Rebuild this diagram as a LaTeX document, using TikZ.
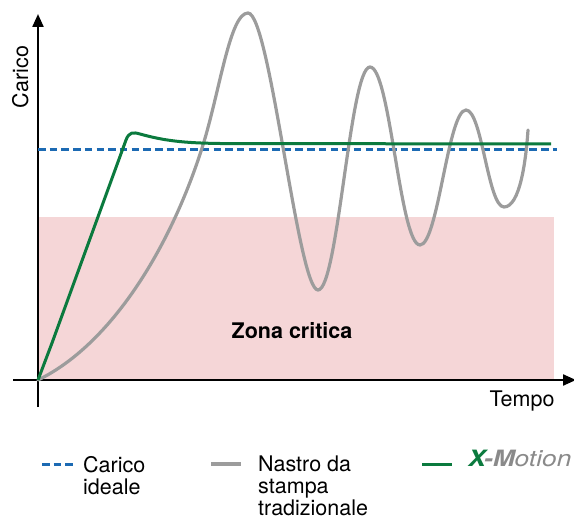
\documentclass[tikz,border=0pt]{standalone}
\usepackage{fontspec}
\setmainfont{TeX Gyre Heros}
\usetikzlibrary{arrows.meta}
\definecolor{xgreen}{HTML}{0B7A3E}
\definecolor{xgray}{HTML}{9C9C9C}
\definecolor{xblue}{HTML}{1C6AB3}
\definecolor{xpink}{HTML}{F5D6D7}
\definecolor{logogray}{HTML}{8A8A8A}
\tikzset{
  axis/.style={line width=2.2pt, -{Triangle[length=13pt,width=11pt]}},
  idealline/.style={xblue, line width=3pt, dash pattern=on 7.5pt off 4.2pt},
  tradline/.style={xgray, line width=3.2pt, line cap=round},
  xmline/.style={xgreen, line width=3pt, line join=round},
  lbl/.style={font=\fontsize{21.5}{22}\selectfont, inner sep=0pt, text=black},
}
\begin{document}
\begin{tikzpicture}[x=1pt, y=-1pt]
\useasboundingbox (0,0) rectangle (574,519);
% critical zone
\fill[xpink] (38,217) rectangle (554,380);
\node[lbl, font=\fontsize{21.5}{22}\selectfont\bfseries, anchor=base] (zona) at (292,338) {Zona critica};
% axes
\coordinate (ybot) at (38,407);
\coordinate (ytop) at (38,14);
\coordinate (xleft) at (13,380);
\coordinate (xright) at (576,380);
\draw[axis] (ybot) -- (ytop);
\draw[axis] (xleft) -- (xright);
\node[lbl, rotate=90, anchor=base] (carico) at (28,77) {Carico};
\node[lbl, anchor=base] (tempo) at (522,406) {Tempo};
% ideal load
\coordinate (i0) at (38,150);
\coordinate (i1) at (557,150);
\draw[idealline] (i0) -- (i1);
% traditional tape
\draw[tradline] (38,380) .. controls (110,345) and (170,250) .. (203,145)
  .. controls (220,90) and (230,13) .. (248,13)
  .. controls (270,13) and (298,290) .. (318,290)
  .. controls (338,290) and (350,67) .. (370,67)
  .. controls (390,67) and (400,245) .. (420,245)
  .. controls (438,245) and (448,110) .. (466,110)
  .. controls (482,110) and (488,207) .. (504,207)
  .. controls (520,207) and (526,160) .. (528,130);
% X-Motion
\draw[xmline] (38,380) .. controls (45,362) .. (52,343) -- (126,140)
  .. controls (129,132) and (133,132) .. (140,134)
  .. controls (165,141) and (185,143) .. (220,143.5) -- (551,144);
% legend
\coordinate (l1a) at (42,464); \coordinate (l1b) at (73,464);
\draw[idealline] (l1a) -- (l1b);
\node[lbl, anchor=base west, align=left] (leg1) at (83,494) {Carico\\ideale};
\coordinate (l2a) at (211,464); \coordinate (l2b) at (241,464);
\draw[tradline, line cap=butt] (l2a) -- (l2b);
\node[lbl, anchor=base west, align=left] (leg2) at (258,515) {Nastro da\\stampa\\tradizionale};
\coordinate (l3a) at (422,464); \coordinate (l3b) at (452,464);
\draw[xmline] (l3a) -- (l3b);
\node[lbl, anchor=base west] (logo) at (468,466) {\fontsize{22.5}{24}\selectfont\scalebox{1.17}[1]{\textcolor{xgreen}{\bfseries\itshape X}\kern-1.5pt\textcolor{logogray}{\bfseries\itshape -M}\textcolor{logogray}{\itshape otion}}};
\end{tikzpicture}
\end{document}
